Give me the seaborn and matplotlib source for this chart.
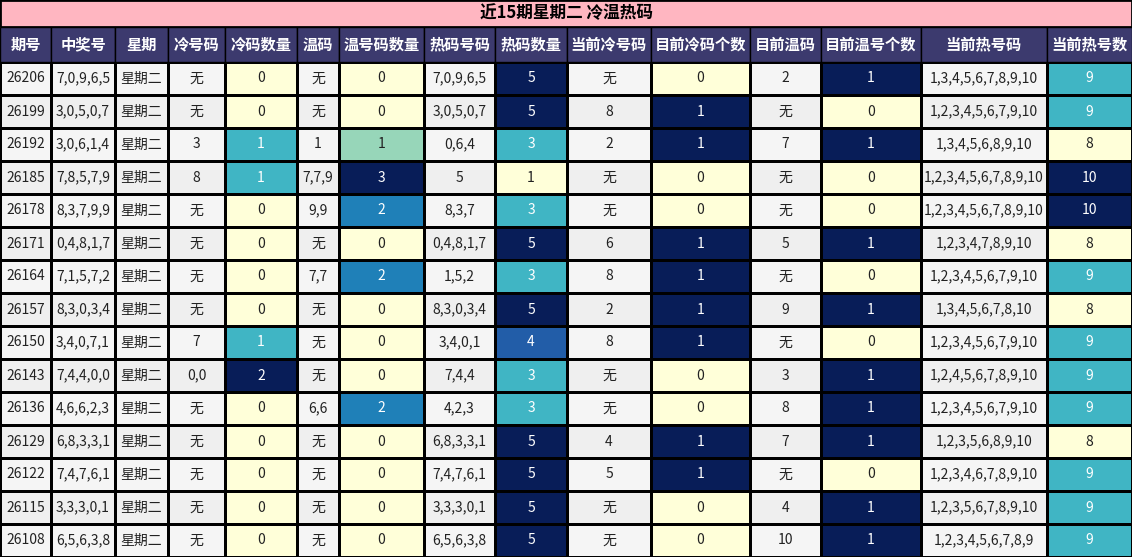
import numpy as np
import pandas as pd
import seaborn as sns
import matplotlib.pyplot as plt

plt.rcParams['font.family'] = ['Noto Sans CJK SC', 'DejaVu Sans']

title = "近15期星期二 冷温热码"
headers = ["期号", "中奖号", "星期", "冷号码", "冷码数量", "温码", "温号码数量", "热码号码", "热码数量",
           "当前冷号码", "目前冷码个数", "目前温码", "目前温号个数", "当前热号码", "当前热号数"]
issue = ["26206", "26199", "26192", "26185", "26178", "26171", "26164", "26157", "26150", "26143",
         "26136", "26129", "26122", "26115", "26108"]
draw = ["7,0,9,6,5", "3,0,5,0,7", "3,0,6,1,4", "7,8,5,7,9", "8,3,7,9,9", "0,4,8,1,7", "7,1,5,7,2",
        "8,3,0,3,4", "3,4,0,7,1", "7,4,4,0,0", "4,6,6,2,3", "6,8,3,3,1", "7,4,7,6,1", "3,3,3,0,1", "6,5,6,3,8"]
weekday = ["星期二"] * 15
cold = ["无", "无", "3", "8", "无", "无", "无", "无", "7", "0,0", "无", "无", "无", "无", "无"]
cold_n = [0, 0, 1, 1, 0, 0, 0, 0, 1, 2, 0, 0, 0, 0, 0]
warm = ["无", "无", "1", "7,7,9", "9,9", "无", "7,7", "无", "无", "无", "6,6", "无", "无", "无", "无"]
warm_n = [0, 0, 1, 3, 2, 0, 2, 0, 0, 0, 2, 0, 0, 0, 0]
hot = ["7,0,9,6,5", "3,0,5,0,7", "0,6,4", "5", "8,3,7", "0,4,8,1,7", "1,5,2", "8,3,0,3,4", "3,4,0,1",
       "7,4,4", "4,2,3", "6,8,3,3,1", "7,4,7,6,1", "3,3,3,0,1", "6,5,6,3,8"]
hot_n = [5, 5, 3, 1, 3, 5, 3, 5, 4, 3, 3, 5, 5, 5, 5]
cur_cold = ["无", "8", "2", "无", "无", "6", "8", "2", "8", "无", "无", "4", "5", "无", "无"]
cur_cold_n = [0, 1, 1, 0, 0, 1, 1, 1, 1, 0, 0, 1, 1, 0, 0]
cur_warm = ["2", "无", "7", "无", "无", "5", "无", "9", "无", "3", "8", "7", "无", "4", "10"]
cur_warm_n = [1, 0, 1, 0, 0, 1, 0, 1, 0, 1, 1, 1, 0, 1, 1]
cur_hot = ["1,3,4,5,6,7,8,9,10", "1,2,3,4,5,6,7,9,10", "1,3,4,5,6,8,9,10", "1,2,3,4,5,6,7,8,9,10",
           "1,2,3,4,5,6,7,8,9,10", "1,2,3,4,7,8,9,10", "1,2,3,4,5,6,7,9,10", "1,3,4,5,6,7,8,10",
           "1,2,3,4,5,6,7,9,10", "1,2,4,5,6,7,8,9,10", "1,2,3,4,5,6,7,9,10", "1,2,3,5,6,8,9,10",
           "1,2,3,4,6,7,8,9,10", "1,2,3,5,6,7,8,9,10", "1,2,3,4,5,6,7,8,9"]
cur_hot_n = [9, 9, 8, 10, 10, 8, 9, 8, 9, 9, 9, 8, 9, 9, 9]

widths = [51, 64, 53, 57, 72, 42, 85, 71, 72, 84, 99, 71, 100, 126, 85]
edges = np.concatenate([[0], np.cumsum(widths)])

cols = [issue, draw, weekday, cold, cold_n, warm, warm_n, hot, hot_n,
        cur_cold, cur_cold_n, cur_warm, cur_warm_n, cur_hot, cur_hot_n]
count_cols = {4: (0, 2), 6: (0, 3), 8: (1, 5), 10: (0, 1), 12: (0, 1), 14: (8, 10)}
nr, nc = 15, len(cols)

norm = np.zeros((nr, nc))
for j, (lo, hi) in count_cols.items():
    norm[:, j] = (np.array(cols[j]) - lo) / (hi - lo)
stripe = np.tile((np.arange(nr) % 2)[:, None], (1, nc)).astype(float)
is_count = np.zeros((nr, nc), bool)
is_count[:, list(count_cols)] = True

fig = plt.figure(figsize=(11.32, 5.57), dpi=100)
H = 557
ax = fig.add_axes([0, 0, 1, (H - 62) / H])
sns.heatmap(pd.DataFrame(stripe), mask=is_count, cmap=sns.color_palette(["#f5f5f5", "#efefef"]),
            vmin=0, vmax=1, cbar=False, linewidths=1, linecolor="black", ax=ax)
sns.heatmap(pd.DataFrame(norm), mask=~is_count, cmap="YlGnBu", vmin=0, vmax=1,
            cbar=False, linewidths=1, linecolor="black", ax=ax)
# stretch the unit columns to the real column widths
for mesh in ax.collections:
    c = mesh._coordinates
    c[..., 0] = np.interp(c[..., 0], np.arange(nc + 1), edges)
ax.set_xlim(0, edges[-1])
ax.set_ylim(nr, 0)
ax.axis("off")

cmap = plt.get_cmap("YlGnBu")
for j in range(nc):
    xc = (edges[j] + edges[j + 1]) / 2
    for i in range(nr):
        color = "#222222"
        if j in count_cols and norm[i, j] > 0.45:
            color = "white"
        ax.text(xc, i + 0.5, str(cols[j][i]), ha="center", va="center", fontsize=10, color=color)

hax = fig.add_axes([0, (H - 62) / H, 1, 35 / H])
hax.set_xlim(0, edges[-1]); hax.set_ylim(0, 1)
hax.axis("off")
for j in range(nc):
    hax.axvspan(edges[j], edges[j + 1], color="#3c3a6e", ec="black", lw=1)
    hax.text((edges[j] + edges[j + 1]) / 2, 0.5, headers[j], ha="center", va="center",
             color="white", fontsize=11, fontweight="bold")

tax = fig.add_axes([0, (H - 27) / H, 1, 27 / H])
tax.set_xlim(0, 1); tax.set_ylim(0, 1)
tax.axis("off")
tax.axvspan(0, 1, color="#ffb6c1", ec="black", lw=2)
tax.text(0.5, 0.5, title, ha="center", va="center", fontsize=12, fontweight="bold")

fig.savefig("out.png", dpi=100)
